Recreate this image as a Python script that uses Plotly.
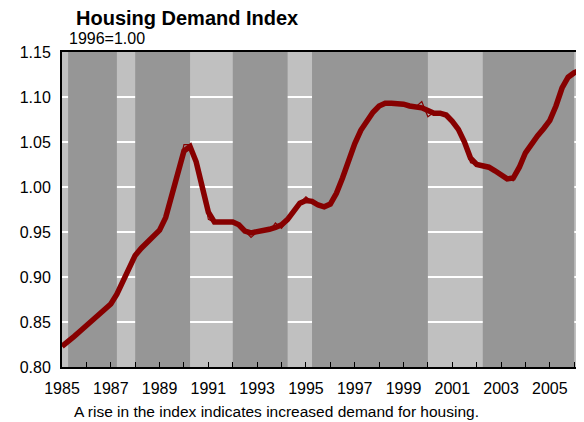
import plotly.graph_objects as go

# Quarterly dates
years = [1985 + 0.25 * i for i in range(86)] + [2006.5]

# Smoothed index (thick line)
smooth = [
    0.823, 0.828, 0.834, 0.840, 0.846, 0.851, 0.857, 0.862,
    0.870, 0.881, 0.896, 0.912, 0.924, 0.932, 0.938, 0.944,
    0.952, 0.966, 0.990, 1.018, 1.040, 1.045, 1.028, 1.000,
    0.972, 0.961, 0.961, 0.961, 0.961, 0.958, 0.951, 0.949,
    0.950, 0.952, 0.953, 0.955, 0.958, 0.964, 0.974, 0.982,
    0.985, 0.984, 0.980, 0.978, 0.981, 0.993, 1.010, 1.030,
    1.048, 1.063, 1.074, 1.083, 1.090, 1.093, 1.093, 1.093,
    1.092, 1.090, 1.089, 1.088, 1.085, 1.082, 1.082, 1.080,
    1.073, 1.064, 1.050, 1.032, 1.025, 1.024, 1.022, 1.018,
    1.013, 1.009, 1.010, 1.022, 1.038, 1.048, 1.057, 1.065,
    1.074, 1.090, 1.110, 1.122, 1.127, 1.130, 1.133,
]

# Raw index (thin line)
raw = [
    0.823, 0.828, 0.834, 0.840, 0.846, 0.851, 0.857, 0.862,
    0.870, 0.881, 0.896, 0.912, 0.924, 0.932, 0.938, 0.944,
    0.952, 0.966, 0.990, 1.018, 1.047, 1.047, 1.028, 1.000,
    0.964, 0.961, 0.961, 0.961, 0.961, 0.958, 0.951, 0.944,
    0.950, 0.952, 0.951, 0.960, 0.954, 0.964, 0.974, 0.982,
    0.989, 0.984, 0.980, 0.978, 0.981, 0.993, 1.010, 1.030,
    1.048, 1.063, 1.074, 1.083, 1.090, 1.093, 1.093, 1.094,
    1.092, 1.090, 1.089, 1.095, 1.078, 1.083, 1.082, 1.080,
    1.073, 1.064, 1.050, 1.027, 1.025, 1.024, 1.022, 1.018,
    1.013, 1.009, 1.007, 1.022, 1.038, 1.048, 1.057, 1.065,
    1.074, 1.090, 1.112, 1.122, 1.127, 1.130, 1.133,
]

# Shaded (dark) periods
band_starts = [1985.25, 1988.0, 1992.0, 1995.25, 2002.25]
band_ends = [1987.25, 1990.25, 1994.25, 2000.0, 2006.0]

all_years = list(range(1985, 2007))
tick_text = [str(y) if y % 2 == 1 else "" for y in all_years]

DARK = "#969696"
LIGHT = "#C0C0C0"
RED = "#870000"
FONT = "Liberation Sans, Arial, sans-serif"

# page offset from default body margin
OFF = 8
PLOT_L, PLOT_T, PLOT_B, PLOT_R = 62, 52, 367, 584
PW = PLOT_R - PLOT_L
PH = PLOT_B - PLOT_T


def px_x(x):
    return (x - PLOT_L) / PW


def px_y(y):
    return (PLOT_B - y) / PH


fig = go.Figure()
fig.add_trace(go.Scatter(x=years, y=smooth, mode="lines",
                         line=dict(color=RED, width=5.5), hoverinfo="skip"))
fig.add_trace(go.Scatter(x=years, y=raw, mode="lines",
                         line=dict(color=RED, width=1.2), hoverinfo="skip"))

for s, e in zip(band_starts, band_ends):
    fig.add_shape(type="rect", xref="x", yref="y", x0=s, x1=e, y0=0.80, y1=1.15,
                  fillcolor=DARK, line=dict(width=0), layer="between")

fig.update_layout(
    width=584 - OFF, height=422 - OFF,
    margin=dict(l=PLOT_L - OFF, r=0, t=PLOT_T - OFF, b=422 - PLOT_B, autoexpand=False),
    paper_bgcolor="white", plot_bgcolor=LIGHT,
    showlegend=False,
    font=dict(family=FONT, color="black", size=16),
    xaxis=dict(range=[1985, 2006.4], tickmode="array", tickvals=all_years,
               ticktext=tick_text, ticks="inside", ticklen=5, tickwidth=1,
               tickcolor="black", showgrid=False, showline=True,
               linecolor="black", linewidth=2, mirror=True, zeroline=False,
               tickfont=dict(size=16), ticklabelstandoff=6),
    yaxis=dict(range=[0.80, 1.15], dtick=0.05, tickformat=".2f",
               showgrid=True, gridcolor="white", gridwidth=2,
               showline=True, linecolor="black", linewidth=2, zeroline=False,
               ticks="", tickfont=dict(size=16), ticklabelstandoff=6),
    annotations=[
        dict(text="<b>Housing Demand Index</b>", xref="paper", yref="paper",
             x=px_x(74), y=px_y(18), xanchor="left", yanchor="middle",
             showarrow=False, font=dict(size=20, family=FONT)),
        dict(text="1996=1.00", xref="paper", yref="paper",
             x=px_x(67), y=px_y(39), xanchor="left", yanchor="middle",
             showarrow=False, font=dict(size=16, family=FONT)),
        dict(text="A rise in the index indicates increased demand for housing.",
             xref="paper", yref="paper",
             x=px_x(72), y=px_y(411), xanchor="left", yanchor="middle",
             showarrow=False, font=dict(size=15.5, family=FONT)),
    ],
)

fig.write_html("out.html")
